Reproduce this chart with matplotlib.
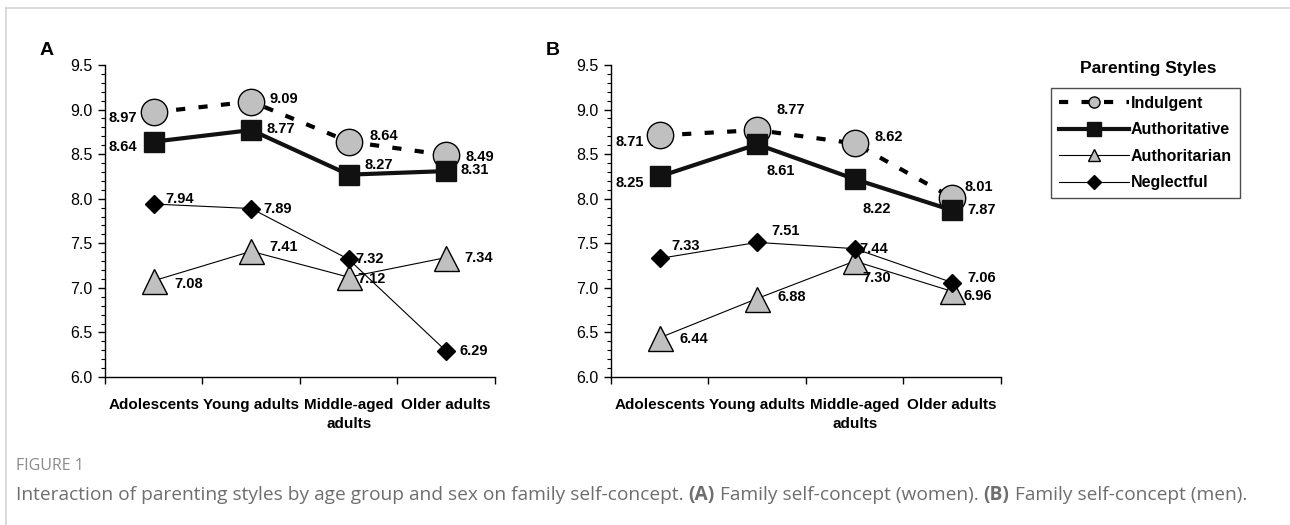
import matplotlib.pyplot as plt
from matplotlib.lines import Line2D
from matplotlib.ticker import MultipleLocator

plt.rcParams['font.family'] = ['Liberation Sans', 'DejaVu Sans']

groups = ['Adolescents', 'Young adults', 'Middle-aged\nadults', 'Older adults']
styles = ['Indulgent', 'Authoritative', 'Authoritarian', 'Neglectful']

# family self-concept, women
women = {
    'Indulgent':     [8.97, 9.09, 8.64, 8.49],
    'Authoritative': [8.64, 8.77, 8.27, 8.31],
    'Authoritarian': [7.08, 7.41, 7.12, 7.34],
    'Neglectful':    [7.94, 7.89, 7.32, 6.29],
}
# family self-concept, men
men = {
    'Indulgent':     [8.71, 8.77, 8.62, 8.01],
    'Authoritative': [8.25, 8.61, 8.22, 7.87],
    'Authoritarian': [6.44, 6.88, 7.30, 6.96],
    'Neglectful':    [7.33, 7.51, 7.44, 7.06],
}

# label offsets in pixels (dx, dy); negative dx -> label sits left of marker
offs_women = {
    'Indulgent':     [(-17, -6), (18, 3), (21, 6), (19, -2)],
    'Authoritative': [(-17, -5), (15, 1), (16, 10), (14, 1)],
    'Authoritarian': [(21, -3), (18, 4), (9, -2), (18, 0)],
    'Neglectful':    [(12, 5), (12, 0), (7, 0), (13, 0)],
}
offs_men = {
    'Indulgent':     [(-16, -7), (19, 20), (20, 6), (12, 11)],
    'Authoritative': [(-16, -7), (9, -27), (8, -30), (15, 0)],
    'Authoritarian': [(20, -1), (20, 2), (8, -17), (11, -5)],
    'Neglectful':    [(12, 12), (14, 11), (5, 0), (15, 5)],
}

fmt = {
    'Indulgent':     dict(color='black', lw=3, dashes=(2.2, 3.2), marker='o', ms=19,
                          mfc='#c0c0c0', mec='black', mew=1),
    'Authoritative': dict(color='#111111', lw=3, marker='s', ms=15,
                          mfc='#111111', mec='#111111'),
    'Authoritarian': dict(color='black', lw=0.8, marker='^', ms=18,
                          mfc='#c0c0c0', mec='black', mew=1),
    'Neglectful':    dict(color='black', lw=0.8, marker='D', ms=9,
                          mfc='black', mec='black'),
}

fig = plt.figure(figsize=(12.9, 5.25), dpi=100)

x = [1, 2, 3, 4]


def panel(rect, data, offs, letter):
    ax = fig.add_axes(rect)
    for s in styles:
        ax.plot(x, data[s], **fmt[s])
        for xi, v, (dx, dy) in zip(x, data[s], offs[s]):
            ax.annotate(f'{v:.2f}', (xi, v), xytext=(dx, dy), textcoords='offset pixels',
                        ha='right' if dx < 0 else 'left', va='center',
                        fontsize=10.5, fontweight='bold')
    ax.set_xlim(0.5, 4.5)
    ax.set_ylim(6.0, 9.5)
    ax.yaxis.set_major_locator(MultipleLocator(0.5))
    ax.yaxis.set_minor_locator(MultipleLocator(0.1))
    ax.yaxis.set_major_formatter('{x:.1f}')
    # category boundaries get the ticks, names sit between them
    ax.set_xticks([0.5, 1.5, 2.5, 3.5, 4.5])
    ax.set_xticklabels([])
    ax.set_xticks(x, minor=True)
    ax.set_xticklabels(groups, minor=True, fontweight='bold', fontsize=11, linespacing=1.5)
    ax.tick_params(axis='x', which='major', length=5, width=1, direction='out')
    ax.tick_params(axis='x', which='minor', length=0, pad=15)
    ax.tick_params(axis='y', which='major', length=5, width=1, labelsize=11.5, pad=4)
    ax.tick_params(axis='y', which='minor', length=3, width=0.8)
    for sp in ['top', 'right']:
        ax.spines[sp].set_visible(False)
    for sp in ['left', 'bottom']:
        ax.spines[sp].set_linewidth(1)
    fig.text(rect[0] - 0.045, 0.903, letter, fontsize=14, fontweight='bold',
             ha='center', va='center')
    return ax


panel([0.0814, 0.2819, 0.3023, 0.5943], women, offs_women, 'A')
panel([0.4736, 0.2819, 0.3023, 0.5943], men, offs_men, 'B')

# legend with smaller markers
small = {'Indulgent': 8, 'Authoritative': 10, 'Authoritarian': 9, 'Neglectful': 7}
handles = []
for s in styles:
    kw = dict(fmt[s])
    kw['ms'] = small[s]
    handles.append(Line2D([], [], **kw))
leg = fig.legend(handles, styles, loc='upper left',
                 bbox_to_anchor=(1051 / 1290, 1 - 88 / 525),
                 frameon=True, fancybox=False, edgecolor='#222222',
                 handlelength=4.4, handletextpad=0.1, labelspacing=0.72,
                 borderpad=0.5, borderaxespad=0,
                 prop=dict(weight='bold', size=11.5))
leg.get_frame().set_linewidth(1)
fig.text(1148 / 1290, 1 - 69 / 525, 'Parenting Styles', fontsize=12.5, fontweight='bold',
         ha='center', va='center')

# card border
fig.add_artist(Line2D([6 / 1290, 1], [1 - 8 / 525, 1 - 8 / 525], color='#d4d4d4', lw=1.2))
fig.add_artist(Line2D([6 / 1290, 6 / 1290], [0, 1 - 8 / 525], color='#d4d4d4', lw=1.2))

# caption
cap_font = ['Open Sans', 'DejaVu Sans']
fig.text(16 / 1290, 1 - 466 / 525, 'FIGURE 1', fontsize=11.5, color='#8a8a8a',
         family=cap_font, va='center')

parts = [
    ('Interaction of parenting styles by age group and sex on family self-concept. ', 'normal'),
    ('(A)', 'bold'),
    (' Family self-concept (women). ', 'normal'),
    ('(B)', 'bold'),
    (' Family self-concept (men).', 'normal'),
]
fig.canvas.draw()
renderer = fig.canvas.get_renderer()
xpos = 16
for txt, w in parts:
    t = fig.text(xpos / 1290, 1 - 495 / 525, txt, fontsize=13.8, color='#6e6e6e',
                 family=cap_font, fontweight=w, va='center')
    bb = t.get_window_extent(renderer)
    xpos += bb.width

fig.savefig('out.png', dpi=100)
